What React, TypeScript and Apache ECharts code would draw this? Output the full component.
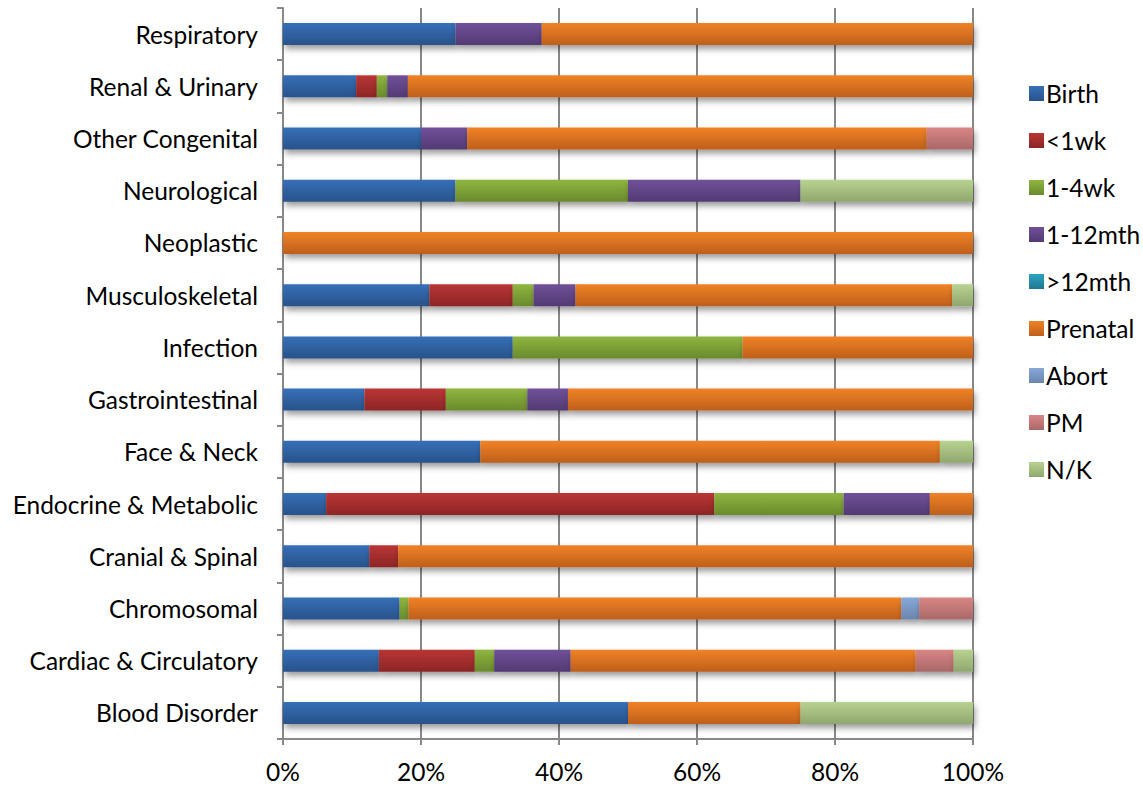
import React, { useEffect, useRef } from "react";
import * as echarts from "echarts";

const categories = [
  "Blood Disorder",
  "Cardiac & Circulatory",
  "Chromosomal",
  "Cranial & Spinal",
  "Endocrine & Metabolic",
  "Face & Neck",
  "Gastrointestinal",
  "Infection",
  "Musculoskeletal",
  "Neoplastic",
  "Neurological",
  "Other Congenital",
  "Renal & Urinary",
  "Respiratory",
];

const seriesNames = ["Birth", "<1wk", "1-4wk", "1-12mth", ">12mth", "Prenatal", "Abort", "PM", "N/K"];

// percentages, in category order (bottom to top)
const birth = [50, 13.9, 16.9, 12.5, 6.25, 28.6, 11.8, 33.3, 21.2, 0, 25, 20, 10.6, 25];
const lt1wk = [0, 13.9, 0, 4.2, 56.25, 0, 11.8, 0, 12.1, 0, 0, 0, 3.0, 0];
const wk1to4 = [0, 2.8, 1.3, 0, 18.75, 0, 11.8, 33.3, 3.0, 0, 25, 0, 1.5, 0];
const mth1to12 = [0, 11.1, 0, 0, 12.5, 0, 5.9, 0, 6.1, 0, 25, 6.7, 3.0, 12.5];
const gt12mth = [0, 0, 0, 0, 0, 0, 0, 0, 0, 0, 0, 0, 0, 0];
const prenatal = [25, 50, 71.4, 83.3, 6.25, 66.6, 58.7, 33.4, 54.6, 100, 0, 66.6, 81.9, 62.5];
const abort = [0, 0, 2.6, 0, 0, 0, 0, 0, 0, 0, 0, 0, 0, 0];
const pm = [0, 5.5, 7.8, 0, 0, 0, 0, 0, 0, 0, 0, 6.7, 0, 0];
const nk = [25, 2.8, 0, 0, 0, 4.8, 0, 0, 3.0, 0, 25, 0, 0, 0];

const seriesData = [birth, lt1wk, wk1to4, mth1to12, gt12mth, prenatal, abort, pm, nk];

const colorPairs: [string, string][] = [
  ["#3670B8", "#29528A"],
  ["#BA3535", "#8C2626"],
  ["#8FB63F", "#6A8A2D"],
  ["#70519A", "#523A72"],
  ["#2EA2C2", "#1F7891"],
  ["#F08226", "#BE5F1B"],
  ["#88A8D8", "#6A85AD"],
  ["#D98585", "#A96868"],
  ["#B8D390", "#8FA76E"],
];

const FONT = "Lato";
const FS = 24.5;

export default function App() {
  const ref = useRef<HTMLDivElement>(null);
  useEffect(() => {
    if (!ref.current) return;
    const chart = echarts.init(ref.current, null, { renderer: "svg" });
    const series = seriesNames.map((name, i) => ({
      name,
      type: "bar",
      stack: "total",
      barWidth: 22,
      data: seriesData[i],
      itemStyle: {
        color: new echarts.graphic.LinearGradient(0, 0, 0, 1, [
          { offset: 0, color: colorPairs[i][0] },
          { offset: 1, color: colorPairs[i][1] },
        ]),
        shadowColor: "rgba(0,0,0,0.4)",
        shadowBlur: 6,
        shadowOffsetX: 2,
        shadowOffsetY: 4,
      },
      emphasis: { disabled: true },
    }));
    chart.setOption({
      animation: false,
      backgroundColor: "#ffffff",
      grid: { left: 283, right: 170, top: 8, bottom: 48, containLabel: false },
      legend: {
        orient: "vertical",
        left: 1024,
        top: 76,
        itemWidth: 15,
        itemHeight: 15,
        itemGap: 22,
        icon: "rect",
        data: seriesNames,
        textStyle: { fontFamily: FONT, fontSize: FS, color: "#000", padding: [0, 0, 0, -3] },
      },
      xAxis: {
        type: "value",
        min: 0,
        max: 100,
        interval: 20,
        axisLabel: {
          formatter: "{value}%",
          fontFamily: FONT,
          fontSize: FS,
          color: "#000",
          margin: 20,
        },
        axisLine: { show: true, lineStyle: { color: "#888", width: 2 } },
        axisTick: { show: true, length: 6, lineStyle: { color: "#888", width: 2 } },
        splitLine: { show: true, lineStyle: { color: "#888", width: 2 } },
      },
      yAxis: {
        type: "category",
        data: categories,
        axisLabel: { fontFamily: FONT, fontSize: FS, color: "#000", margin: 25 },
        axisLine: { show: true, lineStyle: { color: "#888", width: 2 } },
        axisTick: { show: true, length: 6, lineStyle: { color: "#888", width: 2 } },
      },
      series,
    });
    return () => chart.dispose();
  }, []);
  return <div ref={ref} style={{ width: 1143, height: 787, position: "absolute", left: 0, top: 0 }} />;
}
